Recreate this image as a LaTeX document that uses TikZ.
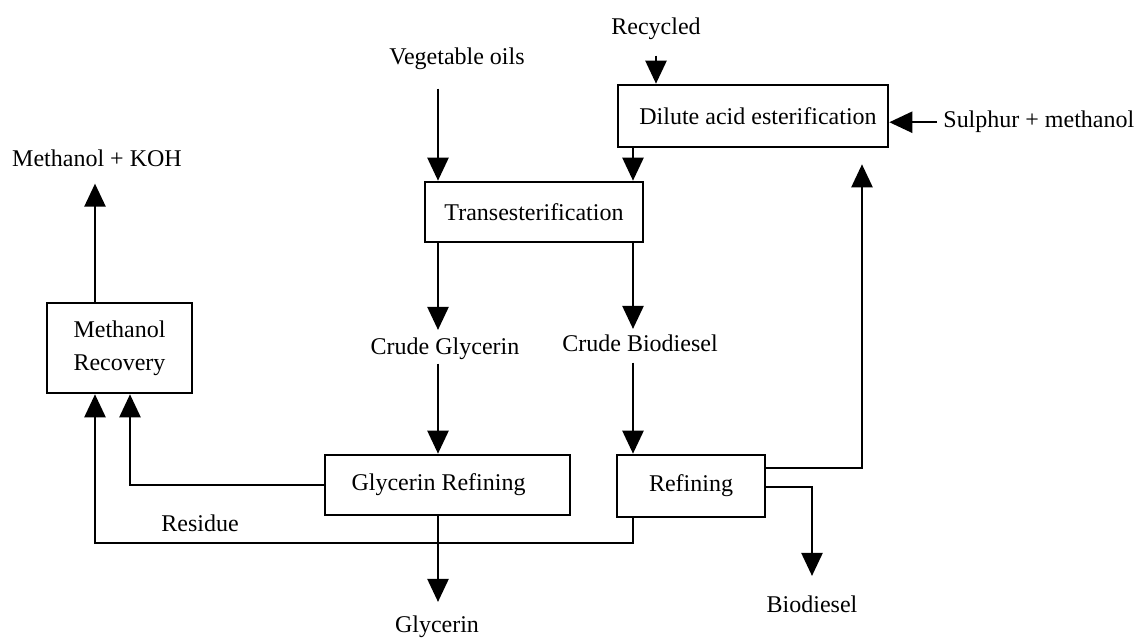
\documentclass[tikz,border=0pt]{standalone}
\usepackage{fontspec}
\setmainfont{Liberation Serif}
\usetikzlibrary{arrows.meta}

\begin{document}
\begin{tikzpicture}[x=0.5pt, y=-0.5pt,
  every node/.style={font=\fontsize{12}{16.5}\selectfont},
  procbox/.style={draw, line width=1.3pt, rectangle, inner sep=0pt},
  lbl/.style={inner sep=0pt},
  flow/.style={line width=1.2pt, -{Triangle[width=10.5pt,length=11.5pt]}},
]
\useasboundingbox (0,0) rectangle (1137,641);

% columns and rows used by the flow lines
\coordinate (colA) at (438,0);
\coordinate (colB) at (633,0);
\coordinate (colC) at (862,0);
\coordinate (colD) at (95,0);
\coordinate (colE) at (130,0);
\coordinate (resrow) at (0,543);

% process boxes
\node[procbox, minimum width=135pt, minimum height=31pt] (dilute) at (753,116) {\hspace*{5pt}\raisebox{-2pt}{Dilute acid esterification}};
\node[procbox, minimum width=109pt, minimum height=30pt] (trans) at (534,212) {Transesterification};
\node[procbox, minimum width=122.5pt, minimum height=30pt] (glyref) at (447.5,485) {Glycerin Refining\hspace*{9pt}};
\node[procbox, minimum width=74pt, minimum height=31pt] (refin) at (691,486) {Refining};
\node[procbox, minimum width=72.5pt, minimum height=45pt, align=center] (mrec) at (119.5,348) {Methanol\\Recovery};

% stream labels
\node[lbl, anchor=base] (recycled) at (656,35) {Recycled};
\node[lbl, anchor=base] (vegoils) at (457,65) {Vegetable oils};
\node[lbl, anchor=base west] (sulphur) at (943,128) {Sulphur + methanol};
\node[lbl, anchor=base] (koh) at (97,167) {Methanol + KOH};
\node[lbl, anchor=base] (cglyc) at (445,355) {Crude Glycerin};
\node[lbl, anchor=base] (cbio) at (640,352) {Crude Biodiesel};
\node[lbl, anchor=base] (glycerin) at (437,633) {Glycerin};
\node[lbl, anchor=base] (biodiesel) at (812,613) {Biodiesel};
\node[lbl, anchor=base] (residue) at (200,532) {Residue};

% feeds
\draw[flow, shorten <=7.5pt] (recycled.south) -- (recycled.south |- dilute.north);
\draw[flow, shorten <=3pt] (sulphur.west) -- (sulphur.west -| dilute.east);
\draw[flow, shorten <=9pt] (vegoils.south -| colA) -- (trans.north -| colA);
\draw[flow] (dilute.south -| colB) -- (trans.north -| colB);

% transesterification products
\draw[flow, shorten >=4pt] (trans.south -| colA) -- (cglyc.north -| colA);
\draw[flow, shorten >=3pt] (trans.south -| colB) -- (cbio.north -| colB);
\draw[flow, shorten <=1.5pt] (cglyc.south -| colA) -- (glyref.north -| colA);
\draw[flow, shorten <=5pt] (cbio.south -| colB) -- (refin.north -| colB);

% refining outputs
\draw[flow, shorten >=7pt] (glyref.south -| colA) -- (glycerin.north -| colA);
\draw[flow, shorten >=8pt] ([yshift=9pt]refin.east) -| (dilute.south -| colC);
\draw[flow, shorten >=10pt] ([yshift=-0.5pt]refin.east) -| (biodiesel.north);

% methanol recovery loop
\draw[flow] (glyref.west) -| (mrec.south -| colE);
\draw[flow] (refin.south -| colB) -- (colB |- resrow) -| (mrec.south -| colD);
\draw[flow, shorten >=8pt] (mrec.north -| colD) -- (koh.south -| colD);
\end{tikzpicture}
\end{document}
